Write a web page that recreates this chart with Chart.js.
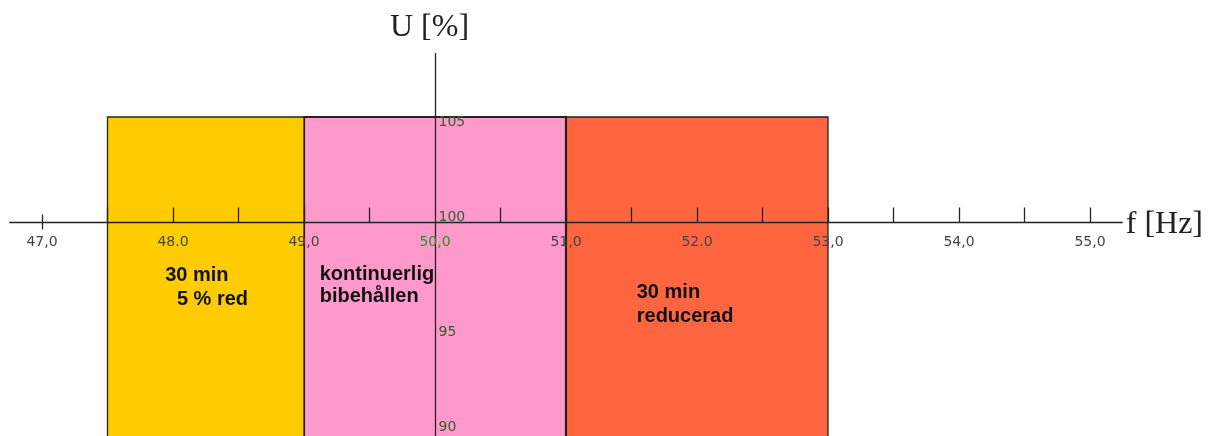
<!DOCTYPE html>
<html lang="sv">
<head>
<meta charset="UTF-8">
<title>U [%] / f [Hz]</title>
<script src="https://cdn.jsdelivr.net/npm/chart.js"></script>
<style>
  html, body { margin: 0; padding: 0; background: #fff; }
</style>
</head>
<body>
<canvas id="chart" width="1211" height="436"></canvas>
<script>
// Frekvensband (Hz) och spänningsgräns (%)
const bandStart = [47.5, 49.0, 51.0];
const bandEnd = [49.0, 51.0, 53.0];
const bandTop = [105, 105, 105];
const bandColors = ['#FFCC00', '#FF99CC', '#FF6640'];

// Axlar
const xTicks = [47, 47.5, 48, 48.5, 49, 49.5, 50.5, 51, 51.5, 52, 52.5, 53, 53.5, 54, 54.5, 55];
const xTickLabelValues = [47, 48, 49, 50, 51, 52, 53, 54, 55];
const xTickLabels = ['47,0', '48.0', '49,0', '50,0', '51,0', '52.0', '53,0', '54,0', '55,0'];
const yTickValues = [105, 100, 95, 90];
const yTickLabels = ['105', '100', '95', '90'];

// Texter i fälten
const noteText = ['30 min', '5 % red', 'kontinuerlig', 'bibehållen', '30 min', 'reducerad'];
const noteX = [47.94, 48.03, 49.12, 49.12, 51.54, 51.54];
const noteY = [97.2, 96.05, 97.25, 96.2, 96.4, 95.25];

// axelkors: x-axeln vid 100 %, y-axeln vid 50 Hz
const xCross = 100, yCross = 50;
const xAxisFrom = 46.75, xAxisTo = 55.25, yAxisTop = 108.05;

const datasets = bandStart.map((s, i) => ({
  data: [
    { x: s, y: 80 },
    { x: s, y: bandTop[i] },
    { x: bandEnd[i], y: bandTop[i] },
    { x: bandEnd[i], y: 80 }
  ],
  backgroundColor: bandColors[i],
  borderColor: '#222',
  borderWidth: i === 1 ? 2.2 : 1.3,
  fill: 'start',
  pointRadius: 0,
  tension: 0
}));

const axesPlugin = {
  id: 'axes',
  afterDatasetsDraw(chart) {
    const { ctx, scales: { x, y } } = chart;
    const x0 = Math.round(x.getPixelForValue(yCross)) + 0.5;
    const y0 = Math.round(y.getPixelForValue(xCross)) + 0.5;
    ctx.save();
    ctx.strokeStyle = '#222';
    ctx.lineWidth = 1.3;

    ctx.beginPath();
    ctx.moveTo(x.getPixelForValue(xAxisFrom), y0);
    ctx.lineTo(x.getPixelForValue(xAxisTo), y0);
    ctx.stroke();

    ctx.beginPath();
    ctx.moveTo(x0, y.getPixelForValue(yAxisTop));
    ctx.lineTo(x0, chart.height);
    ctx.stroke();

    xTicks.forEach(v => {
      const px = Math.round(x.getPixelForValue(v)) + 0.5;
      ctx.beginPath();
      ctx.moveTo(px, y0 - (v === 47 ? 8 : 15));
      ctx.lineTo(px, y0 + (v === 47 ? 7 : 0));
      ctx.stroke();
    });

    ctx.font = '14px "DejaVu Sans"';
    ctx.textAlign = 'center';
    ctx.textBaseline = 'middle';
    xTickLabelValues.forEach((v, i) => {
      ctx.fillStyle = v === 50 ? '#2a8f2a' : '#444';
      ctx.fillText(xTickLabels[i], x.getPixelForValue(v), y0 + 20);
    });

    // y-etiketter: ovanför axeln för 100/90, under linjen för 105/95
    ctx.font = '14px "DejaVu Sans"';
    ctx.textAlign = 'left';
    yTickValues.forEach((v, i) => {
      ctx.fillStyle = '#2f5f2f';
      ctx.textBaseline = v % 10 === 0 ? 'bottom' : 'top';
      ctx.fillText(yTickLabels[i], x0 + 3, y.getPixelForValue(v) + (v % 10 === 0 ? 2 : -2));
    });

    ctx.fillStyle = '#222';
    ctx.font = '32px "Liberation Serif"';
    ctx.textBaseline = 'alphabetic';
    ctx.textAlign = 'center';
    ctx.fillText('U [%]', x0 - 6, y.getPixelForValue(yAxisTop) - 17);
    ctx.textAlign = 'left';
    ctx.fillText('f [Hz]', x.getPixelForValue(xAxisTo) + 3, y0 + 10);

    ctx.fillStyle = '#111';
    ctx.font = 'bold 20px "Liberation Sans"';
    noteText.forEach((t, i) => {
      ctx.fillText(t, x.getPixelForValue(noteX[i]), y.getPixelForValue(noteY[i]));
    });
    ctx.restore();
  }
};

new Chart(document.getElementById('chart').getContext('2d'), {
  type: 'line',
  data: { datasets: datasets },
  options: {
    responsive: false,
    animation: false,
    layout: { padding: 0 },
    plugins: { legend: { display: false }, tooltip: { enabled: false } },
    scales: {
      x: { type: 'linear', min: 46.6794, max: 55.9237, display: false },
      y: { type: 'linear', min: 89.81, max: 110.571, display: false }
    }
  },
  plugins: [axesPlugin]
});
</script>
</body>
</html>
